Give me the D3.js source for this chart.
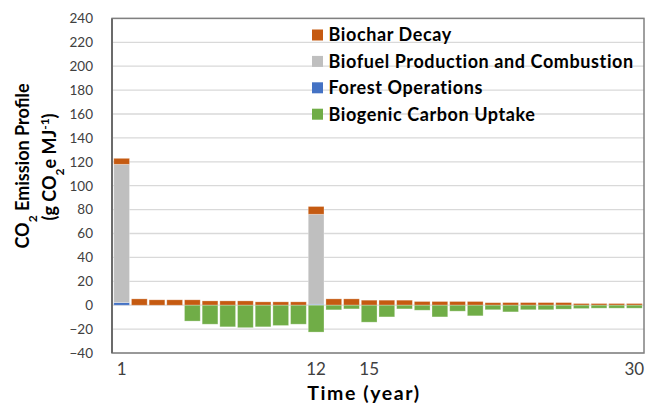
<!DOCTYPE html>
<html>
<head>
<meta charset="utf-8">
<script src="https://cdn.jsdelivr.net/npm/d3@7"></script>
<style>
  html, body { margin: 0; padding: 0; background: #fff; }
  svg { display: block; font-family: Lato, "Open Sans", sans-serif; }
</style>
</head>
<body>
<svg id="chart" width="658" height="406"></svg>
<script>
// Years on the category axis
const years = [1, 2, 3, 4, 5, 6, 7, 8, 9, 10, 11, 12, 13, 14, 15,
               16, 17, 18, 19, 20, 21, 22, 23, 24, 25, 26, 27, 28, 29, 30];
const labelledYears = [1, 12, 15, 30];

// Emission components, g CO2e per MJ
const forestOperations = [2.2, 0, 0, 0, 0, 0, 0, 0, 0, 0, 0, 0.8, 0, 0, 0,
                          0, 0, 0, 0, 0, 0, 0, 0, 0, 0, 0, 0, 0, 0, 0];
const biofuelProduction = [115.7, 0, 0, 0, 0, 0, 0, 0, 0, 0, 0, 75.3, 0, 0, 0,
                           0, 0, 0, 0, 0, 0, 0, 0, 0, 0, 0, 0, 0, 0, 0];
const biocharDecay = [5.0, 5.3, 4.5, 4.5, 4.5, 3.6, 3.6, 3.6, 2.8, 2.8, 2.8, 6.5, 5.3, 5.3, 4.2,
                      4.2, 4.2, 3.1, 3.1, 3.1, 3.1, 2.1, 2.2, 2.2, 2.2, 2.2, 1.4, 1.4, 1.4, 1.4];
const carbonUptake = [0, 0, 0, 0, -13.3, -15.9, -18.1, -18.8, -18.1, -17.0, -15.9, -22.5, -3.9, -3.1, -14.2,
                      -9.8, -3.1, -4.2, -9.8, -5.0, -8.9, -3.8, -5.6, -3.8, -3.8, -3.3, -2.8, -2.5, -2.5, -2.5];

const yTicks = [-40, -20, 0, 20, 40, 60, 80, 100, 120, 140, 160, 180, 200, 220, 240];

// Series, bottom-up for positive stacking; legend lists them top-down
const series = [
  { key: "forest",  name: "Forest Operations",                 color: "#4472C4", values: forestOperations },
  { key: "biofuel", name: "Biofuel Production and Combustion", color: "#BFBFBF", values: biofuelProduction },
  { key: "biochar", name: "Biochar Decay",                     color: "#C55A11", values: biocharDecay },
  { key: "uptake",  name: "Biogenic Carbon Uptake",            color: "#70AD47", values: carbonUptake }
];
const legendOrder = ["biochar", "biofuel", "forest", "uptake"];

const rows = years.map((y, i) => {
  const r = { year: y };
  series.forEach(s => { r[s.key] = s.values[i]; });
  return r;
});

const plot = { left: 112, right: 644, top: 18.4, bottom: 353 };

const svg = d3.select("#chart");

const x = d3.scaleBand()
  .domain(years)
  .range([plot.left, plot.right])
  .paddingInner(0.11)
  .paddingOuter(0.1);

const y = d3.scaleLinear()
  .domain([-40, 240])
  .range([plot.bottom, plot.top]);

// Horizontal gridlines
svg.append("g")
  .selectAll("line")
  .data(yTicks)
  .join("line")
  .attr("x1", plot.left).attr("x2", plot.right)
  .attr("y1", d => y(d)).attr("y2", d => y(d))
  .attr("stroke", "#D9D9D9")
  .attr("stroke-width", 1.3);

// Stacked bars (positive components upward, uptake downward)
const stack = d3.stack()
  .keys(series.map(s => s.key))
  .offset(d3.stackOffsetDiverging);
const layers = stack(rows);

svg.append("g")
  .selectAll("g")
  .data(layers)
  .join("g")
  .attr("fill", d => series.find(s => s.key === d.key).color)
  .selectAll("rect")
  .data(d => d.filter(p => p[1] - p[0] !== 0))
  .join("rect")
  .attr("x", d => x(d.data.year))
  .attr("width", x.bandwidth())
  .attr("y", d => y(Math.max(d[0], d[1])))
  .attr("height", d => Math.abs(y(d[0]) - y(d[1])))
  .attr("stroke", "#ffffff")
  .attr("stroke-opacity", 0.35)
  .attr("stroke-width", 0.8);

// Plot frame
svg.append("rect")
  .attr("x", plot.left).attr("y", plot.top)
  .attr("width", plot.right - plot.left)
  .attr("height", plot.bottom - plot.top)
  .attr("fill", "none")
  .attr("stroke", "#808080")
  .attr("stroke-width", 1.5);
svg.append("line")
  .attr("x1", plot.left).attr("x2", plot.left)
  .attr("y1", plot.top).attr("y2", plot.bottom)
  .attr("stroke", "#6b6b6b")
  .attr("stroke-width", 2);

// Y axis tick labels
const yAxis = d3.axisLeft(y).tickValues(yTicks).tickSize(0).tickPadding(19);
const gy = svg.append("g")
  .attr("transform", `translate(${plot.left},0)`)
  .call(yAxis);
gy.select(".domain").remove();
gy.selectAll("text")
  .attr("font-family", "Lato, sans-serif")
  .attr("font-size", 13.5)
  .attr("fill", "#404040");

// X axis labels for selected years
const xAxis = d3.axisBottom(x).tickValues(labelledYears).tickSize(0).tickPadding(9.5);
const gx = svg.append("g")
  .attr("transform", `translate(0,${plot.bottom})`)
  .call(xAxis);
gx.select(".domain").remove();
gx.selectAll("text")
  .attr("font-family", "Lato, sans-serif")
  .attr("font-size", 17)
  .attr("fill", "#404040");

// X axis title
svg.append("text")
  .attr("x", 364).attr("y", 399.5)
  .attr("text-anchor", "middle")
  .attr("font-weight", "bold")
  .attr("font-size", 19.5)
  .attr("letter-spacing", 1.6)
  .attr("fill", "#000")
  .text("Time (year)");

// Y axis title, two lines
const yTitle1 = svg.append("text")
  .attr("transform", "translate(29,166) rotate(-90)")
  .attr("text-anchor", "middle")
  .attr("font-weight", "bold")
  .attr("font-size", 18)
  .attr("fill", "#000");
yTitle1.append("tspan").text("CO");
yTitle1.append("tspan").attr("baseline-shift", "sub").attr("font-size", 12).text("2");
yTitle1.append("tspan").text(" Emission Profile");

const yTitle2 = svg.append("text")
  .attr("transform", "translate(56,167) rotate(-90)")
  .attr("text-anchor", "middle")
  .attr("font-weight", "bold")
  .attr("font-size", 18)
  .attr("fill", "#000");
yTitle2.append("tspan").text("(g CO");
yTitle2.append("tspan").attr("baseline-shift", "sub").attr("font-size", 12).text("2");
yTitle2.append("tspan").text("e MJ");
yTitle2.append("tspan").attr("baseline-shift", "super").attr("font-size", 12).text("-1");
yTitle2.append("tspan").text(")");

// Legend
const legend = svg.append("g")
  .selectAll("g")
  .data(legendOrder.map(k => series.find(s => s.key === k)))
  .join("g")
  .attr("transform", (d, i) => `translate(312,${35 + i * 26.4})`);
legend.append("rect")
  .attr("x", 0).attr("y", -5.5)
  .attr("width", 11).attr("height", 11)
  .attr("fill", d => d.color);
legend.append("text")
  .attr("x", 16.5).attr("y", 0)
  .attr("dy", "0.36em")
  .attr("font-weight", "bold")
  .attr("font-size", 18)
  .attr("letter-spacing", 0.6)
  .attr("fill", "#000")
  .text(d => d.name);
</script>
</body>
</html>
